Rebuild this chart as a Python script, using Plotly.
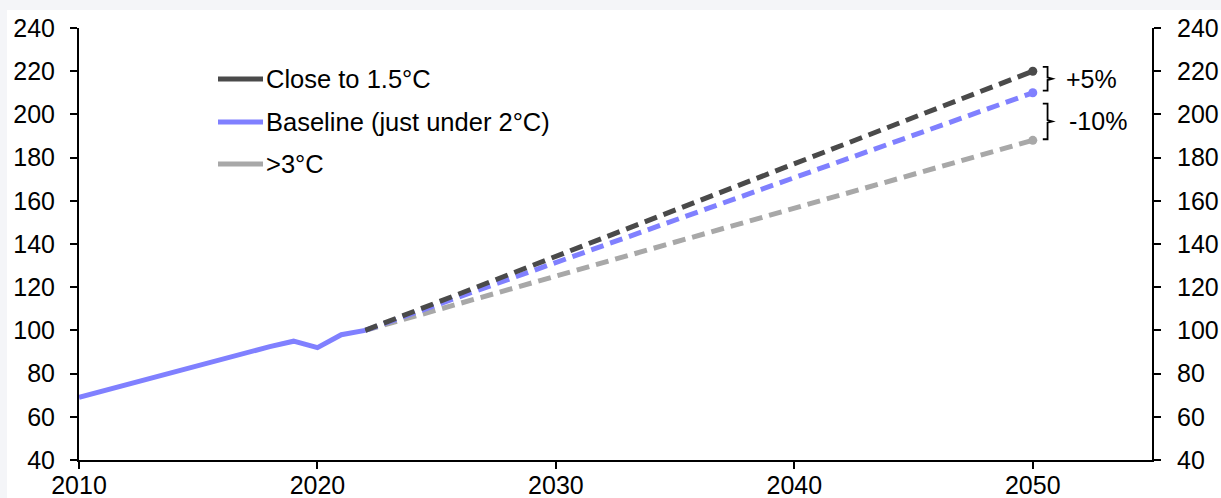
import plotly.graph_objects as go

# ---- data ----
hist_years = [2010, 2011, 2012, 2013, 2014, 2015, 2016, 2017, 2018, 2019, 2020, 2021, 2022]
hist_values = [69, 72, 75, 77.5, 80.5, 83.5, 86.5, 89.5, 92.5, 95, 92, 98, 100]
proj_years = [2022, 2050]
close_15 = [100, 220]
baseline = [100, 210]
above_3 = [100, 188]
series_names = ["Close to 1.5°C", "Baseline (just under 2°C)", ">3°C"]
series_colors = ["#4a4a4a", "#8080ff", "#a8a8a8"]
brace_labels = ["+5%", "-10%"]
y_ticks = [40, 60, 80, 100, 120, 140, 160, 180, 200, 220, 240]
x_ticks = [2010, 2020, 2030, 2040, 2050]

W, H = 1221, 498
# plot area in page pixels
L_PX, R_PX, T_PX, B_PX = 79, 1152, 28, 460
ML, MR, MT, MB = L_PX, W - R_PX, T_PX, H - B_PX
PW, PH = R_PX - L_PX, B_PX - T_PX
GREY = "#f4f5f8"


def px(xp):
    return (xp - L_PX) / PW


def py(yp):
    return (B_PX - yp) / PH


FONT = "Liberation Sans, Arial, sans-serif"

fig = go.Figure()

proj = [close_15, baseline, above_3]
# dashed projections (draw grey first, dark last)
for vals, col in reversed(list(zip(proj, series_colors))):
    fig.add_trace(go.Scatter(
        x=proj_years, y=vals, mode="lines", showlegend=False,
        line=dict(color=col, width=5, dash="13px,7px"), hoverinfo="skip"))
    fig.add_trace(go.Scatter(
        x=proj_years[-1:], y=vals[-1:], mode="markers", showlegend=False,
        marker=dict(color=col, size=9), hoverinfo="skip"))

# history
fig.add_trace(go.Scatter(
    x=hist_years, y=hist_values, mode="lines", showlegend=False,
    line=dict(color=series_colors[1], width=5), hoverinfo="skip"))

# invisible trace for right axis
fig.add_trace(go.Scatter(x=hist_years[:1], y=hist_values[:1], yaxis="y2",
                         mode="markers", marker=dict(opacity=0),
                         showlegend=False, hoverinfo="skip"))

shapes = []
annotations = []
# grey page strips along the top and the left edge
shapes.append(dict(type="rect", xref="paper", yref="paper", layer="below",
                   x0=px(-5), x1=px(W + 5), y0=py(10), y1=py(-5),
                   fillcolor=GREY, line=dict(width=0)))
shapes.append(dict(type="rect", xref="paper", yref="paper", layer="below",
                   x0=px(-5), x1=px(7), y0=py(H + 5), y1=py(-5),
                   fillcolor=GREY, line=dict(width=0)))

# manual legend
leg_rows = [79, 122, 164]
for name, col, ry in zip(series_names, series_colors, leg_rows):
    shapes.append(dict(type="line", xref="paper", yref="paper",
                       x0=px(218), x1=px(263), y0=py(ry), y1=py(ry),
                       line=dict(color=col, width=5)))
    annotations.append(dict(xref="paper", yref="paper", x=px(264), y=py(ry),
                            text=name, showarrow=False, xanchor="left",
                            yanchor="middle",
                            font=dict(family=FONT, size=25.5, color="#000")))

# braces
xe = proj_years[-1]


def brace(top, bot):
    xl, xm, xr = xe + 0.42, xe + 0.62, xe + 0.82
    mid = (top + bot) / 2
    return (f"M {xl},{top} L {xm},{top} L {xm},{mid + 0.6} L {xr},{mid} "
            f"L {xm},{mid - 0.6} L {xm},{bot} L {xl},{bot}")


b1 = (close_15[-1] + 2, baseline[-1] + 1)
b2 = (baseline[-1] - 5, above_3[-1] + 0.5)
for (top, bot), lab, dx in zip([b1, b2], brace_labels, [1.3, 1.45]):
    shapes.append(dict(type="path", xref="x", yref="y", path=brace(top, bot),
                       line=dict(color="#000", width=1.8)))
    annotations.append(dict(xref="x", yref="y", x=xe + dx, y=(top + bot) / 2,
                            text=lab, showarrow=False, xanchor="left",
                            yanchor="middle",
                            font=dict(family=FONT, size=25, color="#000")))

axis_common = dict(showgrid=False, zeroline=False, showline=True,
                   linecolor="#000", linewidth=2, ticks="outside",
                   ticklen=7, tickwidth=2, tickcolor="#000", automargin=False,
                   tickfont=dict(family=FONT, size=25, color="#000"))

fig.update_layout(
    width=W, height=H,
    margin=dict(l=ML, r=MR, t=MT, b=MB, pad=0, autoexpand=False),
    paper_bgcolor="white", plot_bgcolor="white",
    showlegend=False,
    shapes=shapes, annotations=annotations,
    xaxis=dict(range=[2010, 2055], tickvals=x_ticks, ticklabelstandoff=-5,
               **axis_common),
    yaxis=dict(range=[40, 240], tickvals=y_ticks, ticklabelstandoff=10,
               **axis_common),
    yaxis2=dict(range=[40, 240], tickvals=y_ticks, overlaying="y",
                side="right", ticklabelstandoff=11, **axis_common),
)

fig.write_html(
    "out.html",
    config={"displayModeBar": False},
    post_script=("document.body.style.margin='0';"
                 "document.body.style.backgroundColor='%s';"
                 "document.body.style.overflow='hidden';"
                 "document.documentElement.style.overflow='hidden';" % GREY))
